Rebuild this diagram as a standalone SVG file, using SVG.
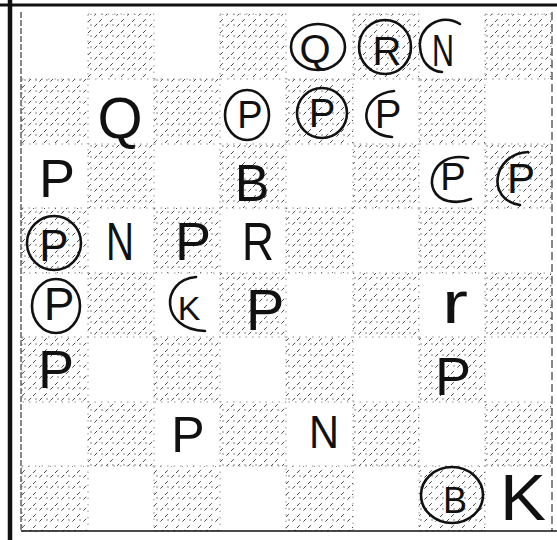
<svg xmlns="http://www.w3.org/2000/svg" width="557" height="540" viewBox="0 0 557 540">
<style>
.pc{font-family:"Liberation Sans","DejaVu Sans",sans-serif;fill:#111;text-anchor:middle}
.ring{fill:none;stroke:#111;stroke-width:2.6;stroke-linecap:round}
.dark{fill:url(#hatch);stroke:#777;stroke-width:0.8;stroke-dasharray:1.5 5}
</style>
<defs>
<pattern id="hatch" patternUnits="userSpaceOnUse" width="11" height="11">
<path d="M0 11 L11 0" stroke="#333" stroke-width="0.9" stroke-dasharray="4 5"/>
<circle cx="3" cy="3" r="0.7" fill="#555"/>
</pattern>
</defs>
<rect width="557" height="540" fill="#fff"/>
<g id="board">
<rect class="dark" x="88" y="14" width="66" height="65"/>
<rect class="dark" x="220" y="14" width="66" height="65"/>
<rect class="dark" x="353" y="14" width="66" height="65"/>
<rect class="dark" x="485" y="14" width="66" height="65"/>
<rect class="dark" x="22" y="79" width="66" height="65"/>
<rect class="dark" x="154" y="79" width="66" height="65"/>
<rect class="dark" x="286" y="79" width="67" height="65"/>
<rect class="dark" x="419" y="79" width="66" height="65"/>
<rect class="dark" x="88" y="144" width="66" height="64"/>
<rect class="dark" x="220" y="144" width="66" height="64"/>
<rect class="dark" x="353" y="144" width="66" height="64"/>
<rect class="dark" x="485" y="144" width="66" height="64"/>
<rect class="dark" x="22" y="208" width="66" height="65"/>
<rect class="dark" x="154" y="208" width="66" height="65"/>
<rect class="dark" x="286" y="208" width="67" height="65"/>
<rect class="dark" x="419" y="208" width="66" height="65"/>
<rect class="dark" x="88" y="273" width="66" height="64"/>
<rect class="dark" x="220" y="273" width="66" height="64"/>
<rect class="dark" x="353" y="273" width="66" height="64"/>
<rect class="dark" x="485" y="273" width="66" height="64"/>
<rect class="dark" x="22" y="337" width="66" height="65"/>
<rect class="dark" x="154" y="337" width="66" height="65"/>
<rect class="dark" x="286" y="337" width="67" height="65"/>
<rect class="dark" x="419" y="337" width="66" height="65"/>
<rect class="dark" x="88" y="402" width="66" height="64"/>
<rect class="dark" x="220" y="402" width="66" height="64"/>
<rect class="dark" x="353" y="402" width="66" height="64"/>
<rect class="dark" x="485" y="402" width="66" height="64"/>
<rect class="dark" x="22" y="466" width="66" height="65"/>
<rect class="dark" x="154" y="466" width="66" height="65"/>
<rect class="dark" x="286" y="466" width="67" height="65"/>
<rect class="dark" x="419" y="466" width="66" height="65"/>
</g>
<g id="frame" fill="none" stroke="#111">
<line x1="0" y1="5" x2="557" y2="5" stroke-width="3"/>
<line x1="10" y1="0" x2="10" y2="540" stroke-width="4.5"/>
<line x1="21" y1="12" x2="21" y2="531" stroke-width="1" stroke-dasharray="6 2"/>
<line x1="21" y1="531" x2="557" y2="531" stroke-width="1.5"/>
<line x1="552" y1="12" x2="552" y2="531" stroke-width="1" stroke-dasharray="8 4"/>
</g>
<g id="r1c5"><ellipse class="ring" cx="318" cy="47" rx="27" ry="23"/><text class="pc" x="315" y="63" font-size="40">Q</text></g>
<g id="r1c6"><ellipse class="ring" cx="385" cy="47" rx="26" ry="27"/><text class="pc" x="387" y="65" font-size="40">R</text></g>
<g id="r1c7"><path class="ring" d="M460 24 C440 12 418 28 420 47 C421 62 430 71 442 72"/><text class="pc" x="443" y="66" font-size="44" textLength="22" lengthAdjust="spacingAndGlyphs">N</text></g>
<g id="r2c2"><text class="pc" x="120" y="138" font-size="58">Q</text></g>
<g id="r2c4"><ellipse class="ring" cx="247" cy="115" rx="22" ry="25"/><text class="pc" x="250" y="128" font-size="38">P</text></g>
<g id="r2c5"><ellipse class="ring" cx="322" cy="113" rx="25" ry="25"/><text class="pc" x="322" y="127" font-size="40">P</text></g>
<g id="r2c6"><path class="ring" d="M394 91 C360 94 355 134 392 137"/><text class="pc" x="388" y="128" font-size="40">P</text></g>
<g id="r3c1"><text class="pc" x="57" y="197" font-size="54">P</text></g>
<g id="r3c4"><text class="pc" x="252" y="201" font-size="52">B</text></g>
<g id="r3c7"><path class="ring" d="M468 158 C430 150 420 195 448 201 C458 203 466 201 471 199"/><text class="pc" x="453" y="190" font-size="38">P</text></g>
<g id="r3c8"><path class="ring" d="M528 152 C492 154 486 200 520 205"/><text class="pc" x="521" y="193" font-size="42">P</text></g>
<g id="r4c1"><ellipse class="ring" cx="54" cy="243" rx="27" ry="27"/><text class="pc" x="54" y="261" font-size="44">P</text></g>
<g id="r4c2"><text class="pc" x="120" y="260" font-size="54" textLength="28" lengthAdjust="spacingAndGlyphs">N</text></g>
<g id="r4c3"><text class="pc" x="193" y="260" font-size="54">P</text></g>
<g id="r4c4"><text class="pc" x="258" y="260" font-size="54" textLength="32" lengthAdjust="spacingAndGlyphs">R</text></g>
<g id="r5c1"><ellipse class="ring" cx="56" cy="306" rx="24" ry="27"/><text class="pc" x="59" y="320" font-size="46">P</text></g>
<g id="r5c3"><path class="ring" d="M196 277 C160 280 160 330 205 331"/><text class="pc" x="189" y="320" font-size="34">K</text></g>
<g id="r5c4"><text class="pc" x="265" y="330" font-size="58">P</text></g>
<g id="r5c7"><text class="pc" transform="translate(455 323) scale(1 1.35)" x="0" y="0" font-size="44" textLength="26" lengthAdjust="spacingAndGlyphs">r</text></g>
<g id="r6c1"><text class="pc" x="56" y="388" font-size="54">P</text></g>
<g id="r6c7"><text class="pc" x="453" y="395" font-size="54">P</text></g>
<g id="r7c3"><text class="pc" x="188" y="452" font-size="50">P</text></g>
<g id="r7c5"><text class="pc" x="324" y="448" font-size="46" textLength="30" lengthAdjust="spacingAndGlyphs">N</text></g>
<g id="r8c7"><ellipse class="ring" cx="452" cy="495" rx="31" ry="28"/><text class="pc" x="455" y="513" font-size="36">B</text></g>
<g id="r8c8"><text class="pc" x="523" y="520" font-size="64" textLength="46" lengthAdjust="spacingAndGlyphs">K</text></g>
</svg>
